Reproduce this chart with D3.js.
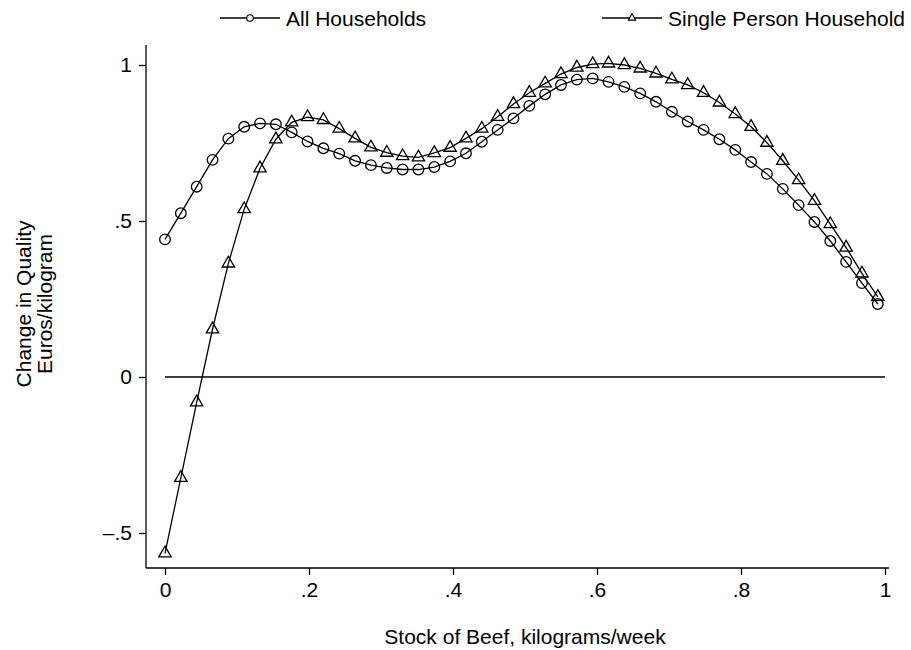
<!DOCTYPE html>
<html>
<head>
<meta charset="utf-8">
<script src="https://cdnjs.cloudflare.com/ajax/libs/d3/7.8.5/d3.min.js"></script>
<style>
  body { margin: 0; background: #fff; }
  text { font-family: "Liberation Sans", Arial, Helvetica, sans-serif; fill: #000; }
</style>
</head>
<body>
<div id="chart"></div>
<script>
// stock of beef, kilograms/week
var stock = [0, 0.022, 0.044, 0.066, 0.088, 0.11, 0.132, 0.154, 0.176, 0.198,
             0.22, 0.242, 0.264, 0.286, 0.308, 0.33, 0.352, 0.374, 0.396, 0.418,
             0.44, 0.462, 0.484, 0.506, 0.528, 0.55, 0.572, 0.594, 0.616, 0.638,
             0.66, 0.682, 0.704, 0.726, 0.748, 0.77, 0.792, 0.814, 0.836, 0.858,
             0.88, 0.902, 0.924, 0.946, 0.968, 0.99];

var allHouseholds = [0.441, 0.525, 0.610, 0.696, 0.764, 0.802, 0.813, 0.810, 0.784, 0.755,
                     0.733, 0.716, 0.693, 0.679, 0.670, 0.665, 0.665, 0.673, 0.691, 0.717,
                     0.754, 0.792, 0.829, 0.869, 0.906, 0.936, 0.953, 0.957, 0.946, 0.930,
                     0.909, 0.882, 0.850, 0.819, 0.792, 0.762, 0.728, 0.689, 0.651, 0.603,
                     0.551, 0.497, 0.436, 0.369, 0.301, 0.234];

var singlePerson = [-0.565, -0.323, -0.081, 0.153, 0.364, 0.538, 0.669, 0.762, 0.816, 0.833,
                    0.824, 0.796, 0.765, 0.736, 0.719, 0.708, 0.704, 0.718, 0.735, 0.765,
                    0.796, 0.834, 0.875, 0.911, 0.941, 0.971, 0.992, 1.003, 1.005, 1.000,
                    0.989, 0.973, 0.954, 0.936, 0.911, 0.880, 0.843, 0.802, 0.751, 0.693,
                    0.631, 0.565, 0.490, 0.415, 0.332, 0.257];

var xTicks = [0, 0.2, 0.4, 0.6, 0.8, 1];
var xTickLabels = ["0", ".2", ".4", ".6", ".8", "1"];
var yTicks = [-0.5, 0, 0.5, 1];
var yTickLabels = ["\u2013.5", "0", ".5", "1"];

var seriesNames = ["All Households", "Single Person Household"];

var w = 911, h = 650;
var fontSize = 21;

var svg = d3.select("#chart")
  .append("svg")
    .attr("width", w)
    .attr("height", h);

// scales mapped straight onto the plot region
var x = d3.scaleLinear().domain([0, 1]).range([165, 885]);
var y = d3.scaleLinear().domain([-0.5, 1]).range([533, 65]);

var axisLeftX = 146, axisBottomY = 568;

// y axis
var yAxis = svg.append("g")
    .attr("transform", "translate(" + axisLeftX + ",0)")
    .call(d3.axisLeft(y)
      .tickValues(yTicks)
      .tickSize(7)
      .tickPadding(7)
      .tickFormat(function(d, i) { return yTickLabels[i]; }));
yAxis.select(".domain").attr("d", "M0,45V" + axisBottomY);

// x axis
var xAxis = svg.append("g")
    .attr("transform", "translate(0," + axisBottomY + ")")
    .call(d3.axisBottom(x)
      .tickValues(xTicks)
      .tickSize(7)
      .tickPadding(7)
      .tickFormat(function(d, i) { return xTickLabels[i]; }));
xAxis.select(".domain").attr("d", "M" + axisLeftX + ",0H889");

svg.selectAll(".tick text")
    .attr("font-size", fontSize)
    .attr("font-family", null);
svg.selectAll(".domain, .tick line")
    .attr("stroke", "#000")
    .attr("stroke-width", 1.3);

// zero reference line
svg.append("line")
    .attr("x1", x(0)).attr("x2", x(1))
    .attr("y1", y(0)).attr("y2", y(0))
    .attr("stroke", "#000")
    .attr("stroke-width", 1.3);

// axis titles
svg.append("text")
    .attr("x", 525)
    .attr("y", 644)
    .attr("text-anchor", "middle")
    .attr("font-size", fontSize)
    .text("Stock of Beef, kilograms/week");

svg.append("text")
    .attr("transform", "translate(31,304) rotate(-90)")
    .attr("text-anchor", "middle")
    .attr("font-size", fontSize)
    .text("Change in Quality");

svg.append("text")
    .attr("transform", "translate(52,304) rotate(-90)")
    .attr("text-anchor", "middle")
    .attr("font-size", fontSize)
    .text("Euros/kilogram");

// lines
var line = d3.line()
    .x(function(d, i) { return x(stock[i]); })
    .y(function(d) { return y(d); });

[allHouseholds, singlePerson].forEach(function(s) {
  svg.append("path")
      .datum(s)
      .attr("d", line)
      .attr("fill", "none")
      .attr("stroke", "#000")
      .attr("stroke-width", 1.3);
});

// markers
svg.selectAll(".circ")
    .data(allHouseholds)
  .enter().append("circle")
    .attr("class", "circ")
    .attr("cx", function(d, i) { return x(stock[i]); })
    .attr("cy", function(d) { return y(d); })
    .attr("r", 5.3)
    .attr("fill", "none")
    .attr("stroke", "#000")
    .attr("stroke-width", 1.3);

var tri = d3.symbol().type(d3.symbolTriangle).size(66);

svg.selectAll(".tri")
    .data(singlePerson)
  .enter().append("path")
    .attr("class", "tri")
    .attr("transform", function(d, i) { return "translate(" + x(stock[i]) + "," + y(d) + ")"; })
    .attr("d", tri)
    .attr("fill", "none")
    .attr("stroke", "#000")
    .attr("stroke-width", 1.3);

// legend
var legend = [
  {name: seriesNames[0], x0: 220, marker: "circle"},
  {name: seriesNames[1], x0: 602, marker: "triangle"}
];
var ly = 18;

legend.forEach(function(l) {
  svg.append("line")
      .attr("x1", l.x0).attr("x2", l.x0 + 60)
      .attr("y1", ly).attr("y2", ly)
      .attr("stroke", "#000")
      .attr("stroke-width", 1.3);
  if (l.marker === "circle") {
    svg.append("circle")
        .attr("cx", l.x0 + 30).attr("cy", ly)
        .attr("r", 3.3)
        .attr("fill", "#fff")
        .attr("stroke", "#000")
        .attr("stroke-width", 1.1);
  } else {
    svg.append("path")
        .attr("transform", "translate(" + (l.x0 + 30) + "," + ly + ")")
        .attr("d", d3.symbol().type(d3.symbolTriangle).size(24))
        .attr("fill", "#fff")
        .attr("stroke", "#000")
        .attr("stroke-width", 1.1);
  }
  svg.append("text")
      .attr("x", l.x0 + 66)
      .attr("y", ly + 8)
      .attr("font-size", fontSize)
      .text(l.name);
});
</script>
</body>
</html>
